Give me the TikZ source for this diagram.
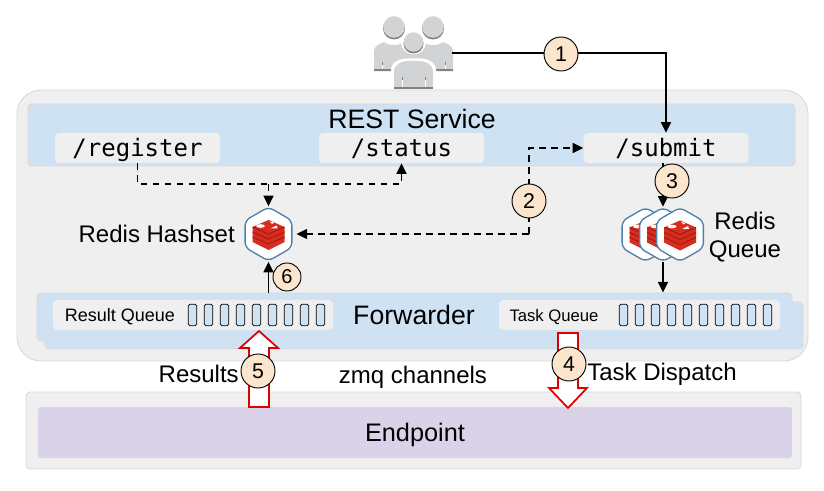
\documentclass[tikz,border=0pt]{standalone}
\usepackage{fontspec}
\setmainfont{Liberation Sans}
\setmonofont{DejaVu Sans Mono}
\usepackage{tikz}
\usetikzlibrary{shapes}
\usetikzlibrary{calc}
\usetikzlibrary{arrows.meta}

\newcommand{\pxu}{0.75pt}
\definecolor{panelgray}{HTML}{EFEFEF}
\definecolor{panelline}{HTML}{D9D9D9}
\definecolor{restblue}{HTML}{CFE2F3}
\definecolor{endpurple}{HTML}{D9D2E9}
\definecolor{stepfill}{HTML}{FCE5CD}
\definecolor{hexline}{HTML}{4F81A8}
\definecolor{redistop}{HTML}{D82C20}
\definecolor{redisdark}{HTML}{A41E11}
\definecolor{userlight}{HTML}{D1D3D4}
\definecolor{userdark}{HTML}{808285}
\definecolor{blockred}{HTML}{DD0000}

\tikzset{
  panel/.style={draw=panelline, fill=panelgray, rectangle, rounded corners=3pt, line width=0.7pt},
  bluepanel/.style={panel, fill=restblue},
  apibox/.style={rectangle, fill=panelgray, rounded corners=3pt, minimum width=165*\pxu, minimum height=30*\pxu, inner sep=0pt, text height=17pt, text depth=3.6pt, font=\ttfamily\fontsize{18}{18}\selectfont},
  queuebox/.style={rectangle, fill=panelgray, rounded corners=3pt, minimum width=281*\pxu, minimum height=30*\pxu, inner sep=0pt},
  cell/.style={draw=black, fill=restblue, rectangle, rounded corners=1.2pt, line width=0.6pt, minimum width=8.5*\pxu, minimum height=21.5*\pxu, inner sep=0pt},
  stepnum/.style={draw=black, fill=stepfill, circle, line width=0.7pt, minimum size=34*\pxu, inner sep=0pt, font=\fontsize{16}{16}\selectfont},
  hexnode/.style={draw=hexline, fill=white, regular polygon, regular polygon sides=6, shape border rotate=30, rounded corners=4pt, line width=1pt, minimum size=54*\pxu, inner sep=0pt},
  bigtext/.style={inner sep=0pt, font=\fontsize{20}{22}\selectfont},
  mediumtext/.style={inner sep=0pt, font=\fontsize{18}{21}\selectfont, align=center},
  smalltext/.style={inner sep=0pt, font=\fontsize{13.5}{14}\selectfont},
  flow/.style={draw=black, line width=1.2pt, -{Triangle[length=8pt, width=7.5pt]}},
  dashflow/.style={flow, dash pattern=on 5pt off 4pt},
  blockarrow/.style={draw=blockred, fill=white, line width=1.3pt, miter limit=10},
  redis/.pic={
    \fill[redistop] (-16,-7) -- (0,-14) -- (16,-7) -- (16,8) -- (0,16) -- (-16,8) -- cycle;
    \foreach \lay in {0,5,10} {
      \draw[redisdark, line width=0.8pt] (-16,\lay-7) -- (0,\lay) -- (16,\lay-7);
    }
    \fill[white] (-8,-8) ellipse (4.5 and 1.8);
    \fill[white] (1,-12.5) -- (5.5,-11.5) -- (3.5,-10) -- cycle;
    \fill[white] (2,-5.5) -- (8,-8.5) -- (9,-5.5) -- cycle;
  },
  person/.pic={
    \fill[userdark] (0,-26.5) circle (11);
    \fill[userlight] (0,-28) circle (10.8);
    \fill[userlight] (-20,16.5) -- (-20,-3) .. controls (-20,-10) and (-14,-11) .. (-10,-13)
      .. controls (-6,-9) and (6,-9) .. (10,-13) .. controls (14,-11) and (20,-10) .. (20,-3) -- (20,16.5) -- cycle;
    \fill[userdark] (-20,14) rectangle (20,16.5);
    \fill[userdark] (-12.5,7) rectangle (-11.5,10);
    \fill[userdark] (11.5,7) rectangle (12.5,10);
    \fill[white] (-12.5,10) rectangle (-11.5,14);
    \fill[white] (11.5,10) rectangle (12.5,14);
  }
}

\begin{document}
\begin{tikzpicture}[x=\pxu, y=-\pxu]
\useasboundingbox (0,0) rectangle (824,491);

% users
\pic at (394,55) {person};
\pic at (433,55) {person};
\fill[white] (413.5,42) circle (12.5);
\fill[white] (391,90) -- (391,70) .. controls (391,62) and (400,58.5) .. (407,58.5) -- (420,58.5) .. controls (427,58.5) and (436,62) .. (436,70) -- (436,90) -- cycle;
\fill[userdark] (413.5,43.5) circle (10);
\fill[userlight] (413.5,42) circle (9.7);
\fill[userlight] (394,89) -- (394,72) .. controls (394,64) and (402,61) .. (408,61) -- (419,61) .. controls (425,61) and (433,64) .. (433,72) -- (433,89) -- cycle;
\fill[userdark] (394,87) rectangle (433,89);
\foreach \tick in {402,425} {
  \fill[userdark] (\tick,77) rectangle (\tick+1,80);
  \fill[white] (\tick,80) rectangle (\tick+1,87);
}
\coordinate (usersout) at (452,53);

% panels
\node[panel, rounded corners=18pt, minimum width=791*\pxu, minimum height=271*\pxu] (cloud) at (412.5,225.5) {};
\node[bluepanel, minimum width=767*\pxu, minimum height=62*\pxu] (rest) at (411.5,135) {};
\node[bigtext] (resttext) at (412,119) {REST Service};
\node[apibox] (register) at (137.5,148) {/register};
\node[apibox] (status) at (401.5,148) {/status};
\node[apibox] (submit) at (666,148) {/submit};

\node[bluepanel, minimum width=758*\pxu, minimum height=47*\pxu] (fwdback) at (424,325.5) {};
\node[bluepanel, minimum width=755*\pxu, minimum height=48*\pxu] (fwd) at (414.5,317) {};
\node[bigtext] (fwdtext) at (414,315) {Forwarder};

\node[queuebox, minimum width=280*\pxu] (resultq) at (193,315) {};
\node[smalltext] (resultqtext) at (120,317) {Result Queue};
\node[queuebox] (taskq) at (639.5,315) {};
\node[smalltext, font=\fontsize{12.5}{14}\selectfont] (taskqtext) at (554,317) {Task Queue};
\foreach \i in {0,...,8} {
  \node[cell] (rcell\i) at ({192.5+16*\i},315) {};
}
\foreach \i in {0,...,9} {
  \node[cell] (tcell\i) at ({623.5+16*\i},315) {};
}

\node[panel, minimum width=775*\pxu, minimum height=77*\pxu] (endpoint) at (413.5,430.5) {};
\node[rectangle, fill=endpurple, rounded corners=2pt, minimum width=754*\pxu, minimum height=51*\pxu, inner sep=0pt] (endinner) at (415,432.5) {};
\node[bigtext, font=\fontsize{19}{22}\selectfont] (endtext) at (415,435) {Endpoint};

% redis stores
\node[hexnode] (hash) at (268.5,234) {};
\pic at (268.5,234) {redis};
\node[mediumtext, anchor=east] (hashtext) at (235,234) {Redis Hashset};

\node[hexnode] (queue1) at (645.5,234.5) {};
\pic at (645.5,234.5) {redis};
\node[hexnode] (queue2) at (663,234.5) {};
\pic at (663,234.5) {redis};
\node[hexnode] (queue3) at (680,234.5) {};
\pic at (680,234.5) {redis};
\node[mediumtext] (queuetext) at (745,237) {Redis\\Queue};

% connectors
\coordinate (hashjoin) at (268.5,184);
\coordinate (bendtwo) at (529,234);
\draw[flow] (usersout) -- (usersout -| submit.north) -- (submit.north);
\draw[flow] (submit.south -| queue2.north) -- (queue2.north);
\draw[flow] (queue2.south) -- (queue2.south |- fwd.north);
\draw[flow] (hash.south |- fwd.north) -- (hash.south);
\draw[dashflow] (register.south) -- (register.south |- hashjoin) -- (hashjoin -| status.south) -- (status.south);
\draw[dashflow] (hashjoin) -- (hash.north);
\draw[dashflow, shorten >=3pt] (bendtwo) -- (hash.east);
\draw[dashflow] (bendtwo) -- (bendtwo |- submit.west) -- (submit.west);

% block arrows
\draw[blockarrow] (249,407) -- (249,348) -- (240,348) -- (259,331) -- (278,348) -- (269,348) -- (269,407) -- cycle;
\draw[blockarrow] (558,333) -- (558,388) -- (549,388) -- (568,408) -- (587,388) -- (578,388) -- (578,333) -- cycle;

\node[mediumtext, anchor=east] (resultstext) at (239,374) {Results};
\node[mediumtext] (zmqtext) at (413,377) {zmq channels};
\node[mediumtext, anchor=west] (dispatchtext) at (587,374) {Task Dispatch};

% step numbers
\node[stepnum] (one) at (561,54) {1};
\node[stepnum] (two) at (529,201) {2};
\node[stepnum] (three) at (672,181) {3};
\node[stepnum] (four) at (569,364) {4};
\node[stepnum] (five) at (258,371) {5};
\node[stepnum, minimum size=28*\pxu, font=\fontsize{15}{15}\selectfont] (six) at (287,277) {6};
\end{tikzpicture}
\end{document}
